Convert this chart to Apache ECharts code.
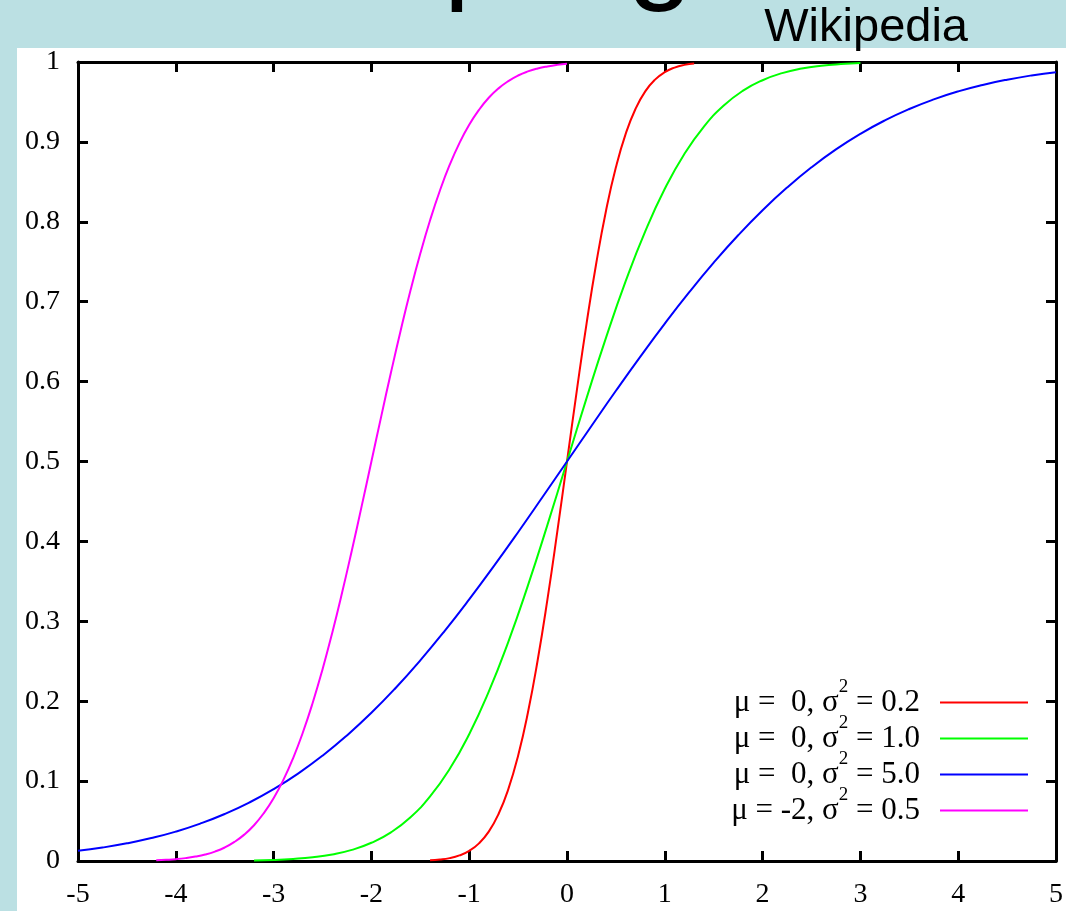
<!DOCTYPE html>
<html>
<head>
<meta charset="utf-8">
<script src="https://cdn.jsdelivr.net/npm/echarts@6/dist/echarts.min.js"></script>
<style>
  html, body { margin: 0; padding: 0; background: #bbe0e3; }
  #main { width: 1066px; height: 911px; }
</style>
</head>
<body>
<div id="main"></div>
<script>
// legend text pieces
var legendMu = ['0', '0', '0', '-2'];
var legendVar = ['0.2', '1.0', '5.0', '0.5'];
var lineColors = ['#ff0000', '#00ff00', '#0000ff', '#ff00ff'];

// red: mu = 0, var = 0.2
var redX = [-1.4, -1.3, -1.2, -1.1, -1.0, -0.9, -0.8, -0.7, -0.6, -0.5, -0.4, -0.3, -0.2, -0.1, 0,
  0.1, 0.2, 0.3, 0.4, 0.5, 0.6, 0.7, 0.8, 0.9, 1.0, 1.1, 1.2, 1.3];
var redY = [0.0009, 0.0018, 0.0036, 0.0070, 0.0127, 0.0221, 0.0368, 0.0588, 0.0899, 0.1318, 0.1855, 0.2512, 0.3274, 0.4115, 0.5,
  0.5885, 0.6726, 0.7488, 0.8145, 0.8682, 0.9101, 0.9412, 0.9632, 0.9779, 0.9873, 0.9930, 0.9964, 0.9982];

// green: mu = 0, var = 1.0
var greenX = [-3.2, -3.0, -2.8, -2.6, -2.4, -2.2, -2.0, -1.8, -1.6, -1.4, -1.2, -1.0, -0.8, -0.6, -0.4, -0.2, 0,
  0.2, 0.4, 0.6, 0.8, 1.0, 1.2, 1.4, 1.6, 1.8, 2.0, 2.2, 2.4, 2.6, 2.8, 3.0];
var greenY = [0.0007, 0.0013, 0.0026, 0.0047, 0.0082, 0.0139, 0.0228, 0.0359, 0.0548, 0.0808, 0.1151, 0.1587, 0.2119, 0.2743, 0.3446, 0.4207, 0.5,
  0.5793, 0.6554, 0.7257, 0.7881, 0.8413, 0.8849, 0.9192, 0.9452, 0.9641, 0.9772, 0.9861, 0.9918, 0.9953, 0.9974, 0.9987];

// blue: mu = 0, var = 5.0
var blueX = [-5, -4.75, -4.5, -4.25, -4, -3.75, -3.5, -3.25, -3, -2.75, -2.5, -2.25, -2, -1.75, -1.5, -1.25, -1, -0.75, -0.5, -0.25, 0,
  0.25, 0.5, 0.75, 1, 1.25, 1.5, 1.75, 2, 2.25, 2.5, 2.75, 3, 3.25, 3.5, 3.75, 4, 4.25, 4.5, 4.75, 5];
var blueY = [0.0127, 0.0168, 0.0221, 0.0287, 0.0368, 0.0468, 0.0588, 0.0731, 0.0899, 0.1094, 0.1318, 0.1572, 0.1855, 0.2169, 0.2512, 0.2881, 0.3274, 0.3687, 0.4115, 0.4555, 0.5,
  0.5445, 0.5885, 0.6313, 0.6726, 0.7119, 0.7488, 0.7831, 0.8145, 0.8428, 0.8682, 0.8906, 0.9101, 0.9269, 0.9412, 0.9532, 0.9632, 0.9713, 0.9779, 0.9832, 0.9873];

// magenta: mu = -2, var = 0.5
var magentaX = [-4.2, -4.1, -4.0, -3.9, -3.8, -3.7, -3.6, -3.5, -3.4, -3.3, -3.2, -3.1, -3.0, -2.9, -2.8, -2.7, -2.6, -2.5, -2.4, -2.3, -2.2, -2.1, -2.0,
  -1.9, -1.8, -1.7, -1.6, -1.5, -1.4, -1.3, -1.2, -1.1, -1.0, -0.9, -0.8, -0.7, -0.6, -0.5, -0.4, -0.3, -0.2, -0.1, 0];
var magentaY = [0.0009, 0.0015, 0.0023, 0.0036, 0.0055, 0.0081, 0.0118, 0.0169, 0.0239, 0.0330, 0.0448, 0.0599, 0.0786, 0.1015, 0.1289, 0.1611, 0.1981, 0.2398, 0.2858, 0.3357, 0.3887, 0.4438, 0.5,
  0.5562, 0.6113, 0.6643, 0.7142, 0.7602, 0.8019, 0.8389, 0.8711, 0.8985, 0.9214, 0.9401, 0.9552, 0.9670, 0.9761, 0.9831, 0.9882, 0.9919, 0.9945, 0.9964, 0.9977];

var xTicks = { min: -5, max: 5, interval: 1 };
var yTicks = { min: 0, max: 1, interval: 0.1 };

function pairs(xs, ys) {
  return xs.map(function (x, i) { return [x, ys[i]]; });
}

var curves = [pairs(redX, redY), pairs(greenX, greenY), pairs(blueX, blueY), pairs(magentaX, magentaY)];
var seriesNames = legendMu.map(function (m, i) { return 'mu=' + m + ', var=' + legendVar[i]; });

var chart = echarts.init(document.getElementById('main'));

var serif = 'Liberation Serif, Times New Roman, serif';
var sans = 'Liberation Sans, Arial, sans-serif';
var axisLineStyle = { color: '#000', width: 3 };
var tickStyle = { color: '#000', width: 3 };

// gnuplot style box: same settings for all four sides
function boxAxis(pos, showLabel, ticks) {
  return {
    type: 'value', position: pos,
    min: ticks.min, max: ticks.max, interval: ticks.interval,
    axisLine: { show: true, onZero: false, lineStyle: axisLineStyle },
    axisTick: { show: true, inside: true, length: 10, lineStyle: tickStyle },
    axisLabel: showLabel
      ? { color: '#000', fontFamily: serif, fontSize: 28, margin: pos == 'bottom' ? 20 : 18 }
      : { show: false },
    splitLine: { show: false }
  };
}

var option = {
  backgroundColor: '#bbe0e3',
  animation: false,
  graphic: [
    {
      type: 'rect', z: -10,
      shape: { x: 17, y: 48, width: 1049, height: 863 },
      style: { fill: '#ffffff' }
    },
    {
      // slide title, cut off by the top of the page
      type: 'text', z: -5,
      style: {
        text: 'Sampling', x: 201, y: 13,
        fontSize: 118, fontFamily: sans,
        fill: '#000', align: 'left', verticalAlign: 'bottom',
        textAlign: 'left', textVerticalAlign: 'bottom'
      }
    },
    {
      type: 'text',
      style: {
        text: 'Wikipedia', x: 968, y: 28,
        fontSize: 47, fontFamily: sans,
        fill: '#000', align: 'right', verticalAlign: 'middle',
        textAlign: 'right', textVerticalAlign: 'middle'
      }
    }
  ],
  grid: { left: 78, right: 9, top: 62, bottom: 50, containLabel: false },
  legend: {
    data: seriesNames,
    orient: 'vertical',
    right: 38,
    top: 678,
    padding: 0,
    align: 'right',
    icon: 'rect',
    itemWidth: 88,
    itemHeight: 2,
    itemGap: -13,
    selectedMode: false,
    formatter: function (name) {
      var i = seriesNames.indexOf(name);
      var mu = legendMu[i] === '-2' ? '-2' : ' ' + legendMu[i];
      return '{t|\u03bc = ' + mu + ', \u03c3}{s|2}{t| = ' + legendVar[i] + '}';
    },
    textStyle: {
      color: '#000',
      padding: [0, 15, 0, 0],
      rich: {
        t: { fontFamily: serif, fontSize: 31, lineHeight: 34, color: '#000' },
        // superscript raised well above the cap line, as in the gnuplot legend
        s: { fontFamily: serif, fontSize: 19, lineHeight: 2, padding: [0, 0, 30, 0], verticalAlign: 'middle', color: '#000' }
      }
    }
  },
  xAxis: [boxAxis('bottom', true, xTicks), boxAxis('top', false, xTicks)],
  yAxis: [boxAxis('left', true, yTicks), boxAxis('right', false, yTicks)],
  series: curves.map(function (d, i) {
    return {
      name: seriesNames[i],
      type: 'line',
      data: d,
      xAxisIndex: 0,
      yAxisIndex: 0,
      smooth: true,
      symbol: 'none',
      color: lineColors[i],
      lineStyle: { color: lineColors[i], width: 2 }
    };
  })
};

chart.setOption(option);
</script>
</body>
</html>
